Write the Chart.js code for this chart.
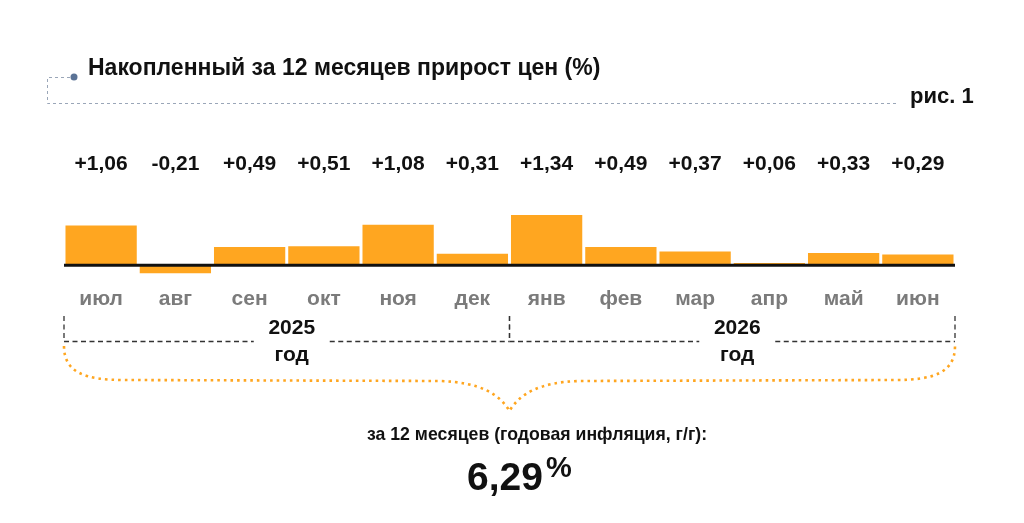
<!DOCTYPE html>
<html>
<head>
<meta charset="utf-8">
<script src="https://cdn.jsdelivr.net/npm/chart.js@4"></script>
<style>
  html, body { margin: 0; padding: 0; background: #fff; }
  #wrap { position: relative; width: 1024px; height: 523px; }
</style>
</head>
<body>
<div id="wrap"><canvas id="myChart"></canvas></div>
<script>
var months = ['июл', 'авг', 'сен', 'окт', 'ноя', 'дек', 'янв', 'фев', 'мар', 'апр', 'май', 'июн'];
var values = [1.06, -0.21, 0.49, 0.51, 1.08, 0.31, 1.34, 0.49, 0.37, 0.06, 0.33, 0.29];
var years = ['2025', '2026'];
var yearFirst = [0, 6];
var yearLast = [5, 11];
var annual = 6.29;

var FONT = '"Liberation Sans", Arial, sans-serif';
var ORANGE = '#FFA620';

function fmt(v) {
    return (v >= 0 ? '+' : '') + v.toFixed(2).replace('.', ',');
}

var overlay = {
    id: 'overlay',
    afterDatasetsDraw: function (chart) {
        var ctx = chart.ctx;
        var x = chart.scales.x;
        var y = chart.scales.y;
        var area = chart.chartArea;
        var half = (x.getPixelForValue(1) - x.getPixelForValue(0)) / 2;
        var y0 = y.getPixelForValue(0);

        ctx.save();

        // baseline
        ctx.strokeStyle = '#111';
        ctx.lineWidth = 3;
        ctx.beginPath();
        ctx.moveTo(area.left, y0);
        ctx.lineTo(area.right, y0);
        ctx.stroke();

        // values and months
        ctx.textAlign = 'center';
        ctx.textBaseline = 'middle';
        for (var i = 0; i < months.length; i++) {
            var cx = x.getPixelForValue(i);
            ctx.fillStyle = '#111';
            ctx.font = 'bold 21px ' + FONT;
            ctx.fillText(fmt(values[i]), cx, 164);
            ctx.fillStyle = '#7b7b7b';
            ctx.fillText(months[i], cx, 299);
        }

        // year brackets
        ctx.strokeStyle = '#333';
        ctx.lineWidth = 1.3;
        ctx.setLineDash([5, 3.5]);
        var lineY = 341.5;
        for (var g = 0; g < years.length; g++) {
            var gl = x.getPixelForValue(yearFirst[g]) - half;
            var gr = x.getPixelForValue(yearLast[g]) + half;
            var gc = (gl + gr) / 2 + 5;
            ctx.beginPath();
            ctx.moveTo(gl, 316); ctx.lineTo(gl, lineY);
            ctx.moveTo(gr, 316); ctx.lineTo(gr, lineY);
            ctx.moveTo(gl, lineY); ctx.lineTo(gc - 38, lineY);
            ctx.moveTo(gc + 38, lineY); ctx.lineTo(gr, lineY);
            ctx.stroke();
            ctx.fillStyle = '#111';
            ctx.font = 'bold 21px ' + FONT;
            ctx.fillText(years[g], gc, 328);
            ctx.fillText('год', gc, 355);
        }

        // orange brace
        var L = area.left, R = area.right;
        var M = x.getPixelForValue(yearLast[0]) + half;
        ctx.strokeStyle = ORANGE;
        ctx.lineWidth = 2.6;
        ctx.setLineDash([2.6, 4]);
        ctx.beginPath();
        ctx.moveTo(L, 346);
        ctx.bezierCurveTo(L, 372, L + 20, 380, L + 60, 380);
        ctx.lineTo(M - 70, 381);
        ctx.bezierCurveTo(M - 30, 382, M - 10, 394, M, 411);
        ctx.bezierCurveTo(M + 10, 394, M + 30, 382, M + 70, 381);
        ctx.lineTo(R - 60, 380);
        ctx.bezierCurveTo(R - 20, 380, R, 372, R, 346);
        ctx.stroke();

        // summary
        ctx.setLineDash([]);
        ctx.fillStyle = '#111';
        ctx.font = 'bold 17.7px ' + FONT;
        ctx.fillText('за 12 месяцев (годовая инфляция, г/г):', 537, 435);
        ctx.textAlign = 'left';
        ctx.textBaseline = 'alphabetic';
        ctx.font = 'bold 39px ' + FONT;
        var big = annual.toFixed(2).replace('.', ',');
        ctx.fillText(big, 467, 490);
        var bw = ctx.measureText(big).width;
        ctx.font = 'bold 29px ' + FONT;
        ctx.fillText('%', 467 + bw + 3, 477);

        // title block
        ctx.strokeStyle = '#9aa6b8';
        ctx.lineWidth = 1;
        ctx.setLineDash([3, 3]);
        ctx.beginPath();
        ctx.moveTo(70, 77.5); ctx.lineTo(47.5, 77.5);
        ctx.lineTo(47.5, 103.5); ctx.lineTo(898, 103.5);
        ctx.stroke();
        ctx.setLineDash([]);
        ctx.fillStyle = '#5b7396';
        ctx.beginPath();
        ctx.arc(74, 77, 3.5, 0, Math.PI * 2);
        ctx.fill();

        ctx.fillStyle = '#111';
        ctx.textBaseline = 'middle';
        ctx.font = 'bold 23px ' + FONT;
        ctx.fillText('Накопленный за 12 месяцев прирост цен (%)', 88, 69);
        ctx.font = 'bold 22px ' + FONT;
        ctx.fillText('рис. 1', 910, 97);

        ctx.restore();
    }
};

document.addEventListener('DOMContentLoaded', function () {
    var ctx1 = document.getElementById('myChart').getContext('2d');

    var data1 = {
        labels: months,
        datasets: [{
            data: values,
            backgroundColor: ORANGE,
            categoryPercentage: 1,
            barPercentage: 0.96
        }]
    };

    // y range chosen so that 1 % is about 37 px and the zero line sits at y=265
    var myChart1 = new Chart(ctx1, {
        type: 'bar',
        data: data1,
        options: {
            responsive: true,
            maintainAspectRatio: false,
            animation: false,
            layout: {
                padding: { left: 64, right: 69, top: 209, bottom: 239 }
            },
            scales: {
                x: { display: false },
                y: { display: false, min: -0.5, max: 1.5 }
            },
            plugins: {
                legend: { display: false },
                tooltip: { enabled: false }
            }
        },
        plugins: [overlay]
    });
});
</script>
</body>
</html>
